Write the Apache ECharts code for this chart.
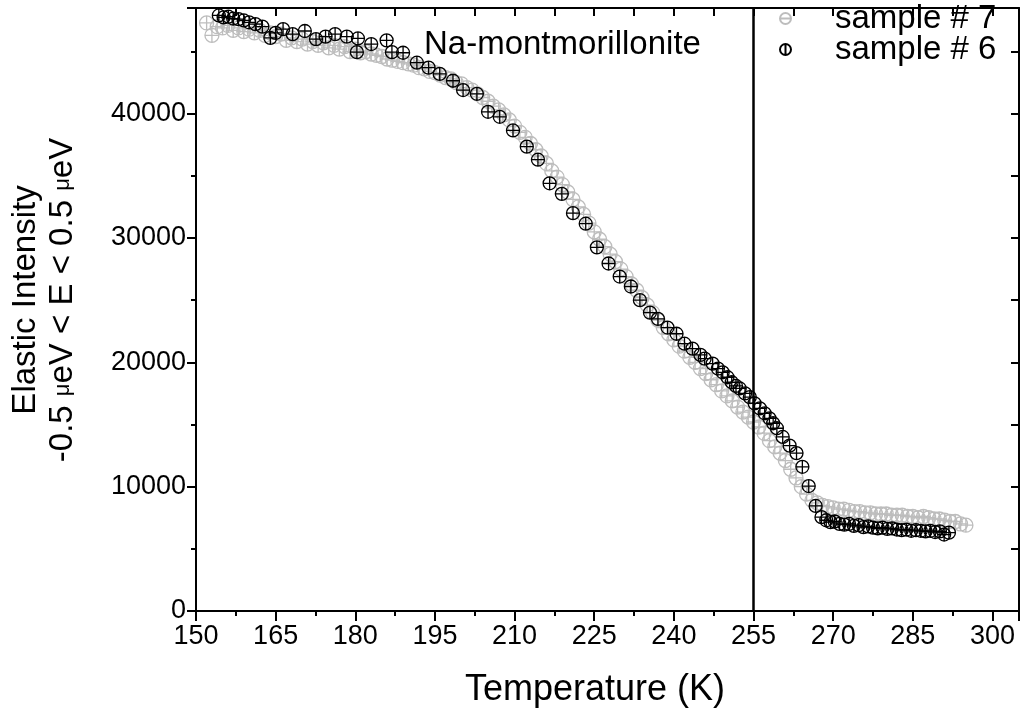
<!DOCTYPE html>
<html lang="en">
<head>
    <meta charset="UTF-8">
    <title>Na-montmorillonite elastic intensity</title>
    <script src="https://cdn.jsdelivr.net/npm/echarts@6/dist/echarts.min.js"></script>
    <style>
        html, body { margin: 0; padding: 0; background: #fff; }
    </style>
</head>
<body>
    <div id="main" style="width: 1023px;height:715px;"></div>
    <script type="text/javascript">
        // sample # 7 (gray): temperatures start at 152 K, one point per K
        var sample7Start = 152;
        var sample7Values = [
            47300, 46300, 47000, 46900, 47100, 46700, 46900, 46600, 46800, 46500,
            46700, 46300, 46500, 46200, 46400, 45900, 46100, 45800, 46000, 45600,
            45800, 45500, 45700, 45300, 45500, 45200, 45400, 45000, 45200, 44900,
            45000, 44800, 44700, 44600, 44400, 44300, 44200, 44100, 44000, 43900,
            43700, 43600, 43400, 43300, 43100, 42900, 42800, 42500, 42400, 42100,
            41900, 41600, 41300, 41000, 40600, 40300, 39900, 39500, 39000, 38500,
            38100, 37600, 37100, 36600, 36000, 35400, 34900, 34300, 33700, 33100,
            32500, 31900, 31200, 30500, 29900, 29300, 28700, 28100, 27500, 26900,
            26300, 25800, 25200, 24600, 24000, 23400, 22800, 22300, 21800, 21300,
            20900, 20400, 20000, 19500, 19100, 18600, 18200, 17700, 17300, 16900,
            16400, 16000, 15600, 15200, 14800, 14300, 13700, 13200, 12700, 12100,
            11400, 10700, 10000, 9400, 8900, 8700, 8500, 8400, 8300, 8200,
            8200, 8100, 8000, 8000, 7900, 7900, 7800, 7800, 7800, 7700,
            7700, 7700, 7600, 7600, 7500, 7600, 7500, 7400, 7400, 7300,
            7200, 7200, 7000, 6900
        ];

        // sample # 6 (black): [temperature, intensity]
        var sample6 = [
            [154.3, 47900], [155.2, 47750], [156.1, 47800], [157.0, 47650], [158.0, 47600],
            [159.0, 47500], [160.0, 47350], [161.2, 47200], [162.5, 47000], [164.0, 46100],
            [165.0, 46500], [166.4, 46800], [168.2, 46400], [170.5, 46650], [172.6, 46000],
            [174.4, 46200], [176.2, 46400], [178.4, 46200], [180.5, 46050], [180.3, 44950],
            [183.0, 45600], [185.9, 45900], [186.9, 44950], [189.0, 44900], [191.6, 44100],
            [193.8, 43700], [195.9, 43200], [198.4, 42650], [200.3, 41900], [202.9, 41600],
            [205.0, 40150], [207.2, 39750], [209.7, 38650], [212.3, 37350], [214.4, 36300],
            [216.6, 34400], [218.9, 33550], [221.0, 32000], [223.4, 31150], [225.5, 29250],
            [227.7, 27950], [229.8, 26900], [231.9, 26100], [233.6, 25000], [235.5, 24000],
            [237.0, 23500], [238.8, 22800], [240.5, 22300], [242.0, 21500], [243.5, 21100],
            [245.0, 20600], [245.8, 20300], [247.3, 19900], [248.3, 19500], [249.2, 19200],
            [250.1, 18800], [250.9, 18400], [251.7, 18100], [252.4, 17900], [253.4, 17500],
            [254.3, 17200], [255.2, 16700], [256.2, 16300], [257.1, 15900], [258.0, 15500],
            [258.7, 15100], [259.4, 14700], [260.5, 14000], [261.8, 13300], [263.1, 12700],
            [264.2, 11600], [265.4, 10050], [266.7, 8450], [267.8, 7550], [268.7, 7300],
            [269.5, 7150], [270.3, 7200], [271.2, 7000], [272.1, 6950], [273.0, 7000],
            [273.9, 6850], [274.8, 6900], [275.7, 6750], [276.6, 6800], [277.5, 6700],
            [278.4, 6650], [279.3, 6700], [280.2, 6600], [281.1, 6650], [282.0, 6550],
            [282.9, 6500], [283.8, 6550], [284.7, 6450], [285.6, 6500], [286.5, 6450],
            [287.4, 6400], [288.3, 6450], [289.2, 6350], [290.1, 6400], [290.9, 6150],
            [291.8, 6300]
        ];

        var markerTemp = 255;
        var xTicks = { min: 150, max: 305, step: 15 };
        var yTicks = { min: 0, max: 48500, step: 10000 };

        var sample7 = sample7Values.map(function (v, i) { return [sample7Start + i, v]; });

        // circle with a cross, circle with a bar (legend icons)
        var crossCircle = 'path://M10,0A10,10 0 1,1 10,20A10,10 0 1,1 10,0ZM0,10L20,10M10,0L10,20';
        var hBarCircle = 'path://M10,0A10,10 0 1,1 10,20A10,10 0 1,1 10,0ZM0,10L20,10';
        var vBarCircle = 'path://M10,0A10,10 0 1,1 10,20A10,10 0 1,1 10,0ZM10,0L10,20';

        var font = 'Liberation Sans, Arial, sans-serif';

        var myChart = echarts.init(document.getElementById('main'));

        var option = {
            animation: false,
            backgroundColor: '#fff',
            grid: { left: 196, right: 4, top: 8, bottom: 104, outerBoundsMode: 'none' },
            legend: {
                orient: 'vertical',
                left: 779,
                top: 2,
                padding: 0,
                itemWidth: 11,
                itemHeight: 11,
                itemGap: -2,
                textStyle: { fontFamily: font, fontSize: 33, color: '#000', lineHeight: 30, padding: [0, 0, 0, 39] },
                data: [
                    { name: 'sample # 7', icon: hBarCircle },
                    { name: 'sample # 6', icon: vBarCircle }
                ]
            },
            xAxis: [
                {
                    type: 'value',
                    min: xTicks.min, max: xTicks.max, interval: xTicks.step,
                    splitLine: { show: false },
                    axisLine: { onZero: false, lineStyle: { color: '#000', width: 2 } },
                    axisTick: { length: 10, lineStyle: { color: '#000', width: 2 } },
                    minorTick: { show: true, splitNumber: 2, length: 5, lineStyle: { color: '#000', width: 2 } },
                    axisLabel: { color: '#000', fontFamily: font, fontSize: 27, margin: 12, showMaxLabel: false }
                },
                {
                    type: 'value', position: 'top',
                    min: xTicks.min, max: xTicks.max, interval: xTicks.step / 2,
                    splitLine: { show: false },
                    axisLine: { onZero: false, lineStyle: { color: '#000', width: 2 } },
                    axisTick: { inside: true, length: 8, lineStyle: { color: '#000', width: 2 } },
                    axisLabel: { show: false }
                }
            ],
            yAxis: [
                {
                    type: 'value',
                    min: yTicks.min, max: yTicks.max, interval: yTicks.step,
                    splitLine: { show: false },
                    axisLine: { show: true, onZero: false, lineStyle: { color: '#000', width: 2 } },
                    axisTick: { show: true, length: 9, lineStyle: { color: '#000', width: 2 } },
                    minorTick: { show: true, splitNumber: 2, length: 5, lineStyle: { color: '#000', width: 2 } },
                    axisLabel: {
                        color: '#000', fontFamily: font, fontSize: 27, margin: 10, showMaxLabel: false,
                        formatter: function (v) { return String(v); }
                    }
                },
                {
                    type: 'value', position: 'right',
                    min: yTicks.min, max: yTicks.max, interval: yTicks.step / 2,
                    splitLine: { show: false },
                    axisLine: { show: true, onZero: false, lineStyle: { color: '#000', width: 2 } },
                    axisTick: { show: true, inside: true, length: 8, lineStyle: { color: '#000', width: 2 } },
                    axisLabel: { show: false }
                }
            ],
            series: [
                {
                    name: 'sample # 7',
                    type: 'scatter',
                    data: sample7,
                    symbol: crossCircle,
                    symbolSize: 14,
                    itemStyle: { color: 'rgba(0,0,0,0)', borderColor: '#bdbdbd', borderWidth: 1.3, opacity: 1 }
                },
                {
                    name: 'sample # 6',
                    type: 'scatter',
                    data: sample6,
                    symbol: crossCircle,
                    symbolSize: 13,
                    itemStyle: { color: 'rgba(0,0,0,0)', borderColor: '#000', borderWidth: 1.3, opacity: 1 },
                    markLine: {
                        silent: true,
                        symbol: 'none',
                        label: { show: false },
                        lineStyle: { color: '#000', width: 2.5, type: 'solid' },
                        data: [{ xAxis: markerTemp }]
                    }
                }
            ],
            graphic: [
                {
                    type: 'text', left: 424, top: 28,
                    style: { text: 'Na-montmorillonite', fontFamily: font, fontSize: 33, fill: '#000' }
                },
                {
                    type: 'text', x: 595, y: 690,
                    style: { text: 'Temperature (K)', fontFamily: font, fontSize: 36, fill: '#000', align: 'center', verticalAlign: 'middle' }
                },
                {
                    type: 'text', x: 44, y: 300, rotation: Math.PI / 2,
                    style: {
                        text: '{a|Elastic Intensity}\n{a|-0.5 }{mu|μ}{a|eV < E < 0.5 }{mu|μ}{a|eV}',
                        align: 'center', verticalAlign: 'middle', fill: '#000',
                        rich: {
                            a: { fontFamily: font, fontSize: 33, lineHeight: 37, fill: '#000' },
                            mu: { fontFamily: font, fontSize: 22, lineHeight: 37, fill: '#000' }
                        }
                    }
                }
            ]
        };

        myChart.setOption(option);
    </script>
</body>
</html>
